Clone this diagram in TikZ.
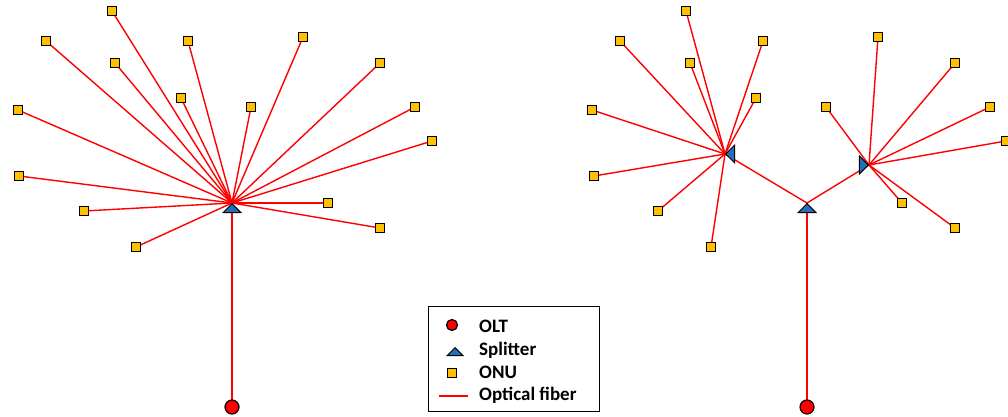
\documentclass[tikz,border=0pt]{standalone}
\usepackage{fontspec}
\setmainfont{Carlito}
\usetikzlibrary{shapes.geometric,backgrounds}
\definecolor{onuyellow}{HTML}{FFC000}
\definecolor{splitblue}{HTML}{2271B8}
\tikzstyle{onu}=[rectangle, draw=black, fill=onuyellow, line width=1.4pt, minimum size=9pt, inner sep=0pt]
\tikzstyle{olt}=[circle, draw=black, fill=red, line width=1.2pt, minimum size=14pt, inner sep=0pt]
\tikzstyle{splitter}=[isosceles triangle, isosceles triangle apex angle=90, draw=black, fill=splitblue, line width=1pt, minimum width=9pt, minimum height=9pt, inner sep=0pt, anchor=apex]
\tikzstyle{fiber}=[red, line width=1.4pt]
\tikzstyle{legendtext}=[anchor=base west, inner sep=0pt, font=\fontsize{19}{22}\selectfont\bfseries]

\begin{document}
\begin{tikzpicture}[x=1pt, y=-1pt]
\useasboundingbox (0,0) rectangle (1008,417);
% Splitters
    \node[splitter, shape border rotate=90] (s1) at (232,203) {};
    \node[splitter, shape border rotate=90] (s2) at (807,203) {};
    \node[splitter, shape border rotate=180] (s3) at (725,154) {};
    \node[splitter, shape border rotate=0] (s4) at (869,165) {};
% OLTs
    \node[olt] (o1) at (232,407) {};
    \node[olt] (o2) at (807,407) {};
% ONUs, single splitter
    \node[onu] (a1) at (112,11) {};
    \node[onu] (a2) at (46,41) {};
    \node[onu] (a3) at (188,41) {};
    \node[onu] (a4) at (303,37) {};
    \node[onu] (a5) at (115,63) {};
    \node[onu] (a6) at (380,63) {};
    \node[onu] (a7) at (181,98) {};
    \node[onu] (a8) at (251,107) {};
    \node[onu] (a9) at (18,110) {};
    \node[onu] (a10) at (415,107) {};
    \node[onu] (a11) at (432,141) {};
    \node[onu] (a12) at (19,176) {};
    \node[onu] (a13) at (328,203) {};
    \node[onu] (a14) at (84,211) {};
    \node[onu] (a15) at (380,228) {};
    \node[onu] (a16) at (136,247) {};
% ONUs, cascaded splitters
    \node[onu] (b1) at (686,11) {};
    \node[onu] (b2) at (620,41) {};
    \node[onu] (b3) at (763,41) {};
    \node[onu] (b4) at (690,63) {};
    \node[onu] (b5) at (756,98) {};
    \node[onu] (b6) at (592,110) {};
    \node[onu] (b7) at (594,176) {};
    \node[onu] (b8) at (658,211) {};
    \node[onu] (b9) at (711,247) {};
    \node[onu] (c1) at (878,37) {};
    \node[onu] (c2) at (955,63) {};
    \node[onu] (c3) at (826,107) {};
    \node[onu] (c4) at (990,107) {};
    \node[onu] (c5) at (1006,141) {};
    \node[onu] (c6) at (902,203) {};
    \node[onu] (c7) at (955,228) {};
% Fibers
\begin{scope}[on background layer]
    \draw[fiber] (o1.center) -- (s1.apex);
    \draw[fiber] (a1.center) -- (s1.apex);
    \draw[fiber] (a2.center) -- (s1.apex);
    \draw[fiber] (a3.center) -- (s1.apex);
    \draw[fiber] (a4.center) -- (s1.apex);
    \draw[fiber] (a5.center) -- (s1.apex);
    \draw[fiber] (a6.center) -- (s1.apex);
    \draw[fiber] (a7.center) -- (s1.apex);
    \draw[fiber] (a8.center) -- (s1.apex);
    \draw[fiber] (a9.center) -- (s1.apex);
    \draw[fiber] (a10.center) -- (s1.apex);
    \draw[fiber] (a11.center) -- (s1.apex);
    \draw[fiber] (a12.center) -- (s1.apex);
    \draw[fiber] (a13.center) -- (s1.apex);
    \draw[fiber] (a14.center) -- (s1.apex);
    \draw[fiber] (a15.center) -- (s1.apex);
    \draw[fiber] (a16.center) -- (s1.apex);
    \draw[fiber] (o2.center) -- (s2.apex);
    \draw[fiber] (s2.apex) -- (s3.apex);
    \draw[fiber] (s2.apex) -- (s4.apex);
    \draw[fiber] (b1.center) -- (s3.apex);
    \draw[fiber] (b2.center) -- (s3.apex);
    \draw[fiber] (b3.center) -- (s3.apex);
    \draw[fiber] (b4.center) -- (s3.apex);
    \draw[fiber] (b5.center) -- (s3.apex);
    \draw[fiber] (b6.center) -- (s3.apex);
    \draw[fiber] (b7.center) -- (s3.apex);
    \draw[fiber] (b8.center) -- (s3.apex);
    \draw[fiber] (b9.center) -- (s3.apex);
    \draw[fiber] (c1.center) -- (s4.apex);
    \draw[fiber] (c2.center) -- (s4.apex);
    \draw[fiber] (c3.center) -- (s4.apex);
    \draw[fiber] (c4.center) -- (s4.apex);
    \draw[fiber] (c5.center) -- (s4.apex);
    \draw[fiber] (c6.center) -- (s4.apex);
    \draw[fiber] (c7.center) -- (s4.apex);
\end{scope}
% Legend
    \draw[line width=1pt] (428,306) rectangle (599,411);
    \node[olt, minimum size=11pt] (l1) at (452,325) {};
    \node[splitter, shape border rotate=90, minimum width=8pt, minimum height=8pt] (l2) at (455,347) {};
    \node[onu, minimum size=8.5pt, line width=1.3pt] (l3) at (452,373) {};
    \coordinate (l4a) at (439,396);
    \coordinate (l4b) at (468,396);
    \draw[fiber, line width=1.2pt] (l4a) -- (l4b);
    \node[legendtext] (t1) at (479,332.5) {OLT};
    \node[legendtext] (t2) at (479,355.5) {Splitter};
    \node[legendtext] (t3) at (479,378) {ONU};
    \node[legendtext] (t4) at (479,400) {Optical fiber};
\end{tikzpicture}
\end{document}
